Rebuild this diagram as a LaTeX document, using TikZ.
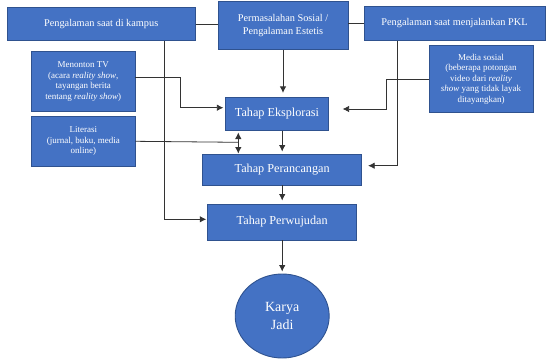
\documentclass[tikz,border=0pt]{standalone}
\usepackage{fontspec}
\setmainfont{Liberation Serif}
\usepackage{tikz}
\usetikzlibrary{shapes.geometric,arrows.meta}
\definecolor{biru}{HTML}{4472C4}
\definecolor{biruTua}{HTML}{2F528F}

\begin{document}
\begin{tikzpicture}[x=1pt,y=-1pt,>={Latex[length=6.5pt,width=6.5pt]},
		blok/.style={draw=biruTua, line width=0.9pt, fill=biru, text=white, align=center, inner sep=2pt},
		kecil/.style={blok, font=\fontsize{9}{10.5}\selectfont},
		besar/.style={blok, font=\fontsize{10.3}{13.5}\selectfont},
		tahap/.style={blok, font=\fontsize{12.2}{14}\selectfont},
		garis/.style={draw=black!80, line width=0.8pt}]
		\useasboundingbox (0,0) rectangle (547,359);

		%% Sources on the top row
		\node[besar, minimum width=187.7pt, minimum height=33.4pt] (kampus) at (101.2,24) {Pengalaman saat di kampus};
		\node[besar, minimum width=130pt, minimum height=48pt] (masalah) at (283,25.5) {Permasalahan Sosial /\\Pengalaman Estetis};
		\node[besar, minimum width=181pt, minimum height=33.3pt] (pkl) at (454.5,23.4) {Pengalaman saat menjalankan PKL};

		%% Side sources
		\node[kecil, minimum width=103.3pt, minimum height=59.3pt] (tv) at (83.3,81.3) {Menonton TV\\(acara \textit{reality show},\\tayangan berita\\tentang \textit{reality show})};
		\node[kecil, minimum width=103.3pt, minimum height=50.7pt] (literasi) at (83.3,141.3) {Literasi\\(jurnal, buku, media\\online)};
		\node[kecil, minimum width=104pt, minimum height=66.6pt] (medsos) at (481,79) {Media sosial\\(beberapa potongan\\video dari \textit{reality}\\\textit{show} yang tidak layak\\ditayangkan)};

		%% Stages
		\node[tahap, minimum width=102.3pt, minimum height=32.7pt] (eksplorasi) at (277,113.7) {Tahap Eksplorasi};
		\node[tahap, minimum width=159pt, minimum height=31pt] (perancangan) at (282.2,169.5) {Tahap Perancangan};
		\node[tahap, minimum width=149pt, minimum height=36pt] (perwujudan) at (282.2,222) {Tahap Perwujudan};
		\node[blok, ellipse, inner sep=0pt, minimum width=94pt, minimum height=84pt, font=\fontsize{14}{17.7}\selectfont] (karya) at (282.2,316) {Karya\\Jadi};

		% top row links
		\draw[garis] (kampus.east) -- (kampus.east -| masalah.west);
		\draw[garis] (masalah.east |- pkl.west) -- (pkl.west);

		% into Eksplorasi
		\draw[garis,->,shorten >=4pt] (masalah.south) -- (masalah.south |- eksplorasi.north);
		\draw[garis,->,shorten >=2pt] ([yshift=4pt]tv.east) -- ++(45,0) |- ([yshift=6pt]eksplorasi.west);
		\draw[garis,->,shorten >=14pt] (medsos.west) -- ++(-42.3,0) |- ([yshift=4.7pt]eksplorasi.east);

		% Literasi joins between Eksplorasi and Perancangan
		\coordinate (simpul) at (238.3,142.3);
		\draw[garis] (literasi.east) -- (simpul);
		\draw[garis,<->,shorten <=2pt] (eksplorasi.south -| simpul) -- (perancangan.north -| simpul);

		% down the stages
		\draw[garis,->,shorten >=2pt] (eksplorasi.south -| perancangan.north) -- (perancangan.north);
		\draw[garis,->,shorten >=6pt] ([xshift=-56.8pt]pkl.south) |- ([yshift=3.8pt]perancangan.east);
		\draw[garis,->,shorten >=3pt] (perancangan.south) -- (perwujudan.north);
		\draw[garis,->,shorten >=1pt] ([xshift=63.1pt]kampus.south) |- ([yshift=2.7pt]perwujudan.west);
		\draw[garis,->,shorten >=2pt] (perwujudan.south) -- (karya.north);
	\end{tikzpicture}
\end{document}
